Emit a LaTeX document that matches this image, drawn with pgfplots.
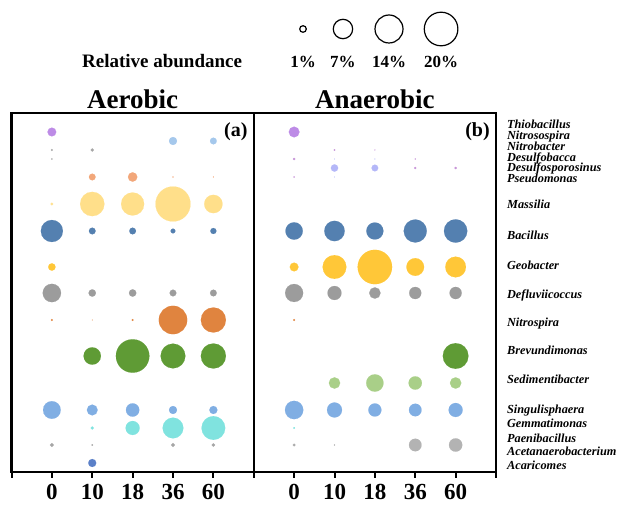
\documentclass[border=0pt]{standalone}
\usepackage{fontspec}
\setmainfont{Liberation Serif}
\usepackage{pgfplots}
\pgfplotsset{compat=1.18}
\usepackage{pgfplotstable}

\definecolor{cpu}{HTML}{BD8BE6}
\definecolor{clb}{HTML}{A5C8EC}
\definecolor{cgr}{HTML}{A6A6A6}
\definecolor{cmv}{HTML}{C896D8}
\definecolor{clv}{HTML}{B4B7F8}
\definecolor{cor}{HTML}{F2A77A}
\definecolor{cye}{HTML}{FFDF8A}
\definecolor{cbb}{HTML}{5480B0}
\definecolor{cgo}{HTML}{FFC738}
\definecolor{cdg}{HTML}{9C9C9C}
\definecolor{cno}{HTML}{E0843F}
\definecolor{cgn}{HTML}{5F9B35}
\definecolor{clg}{HTML}{A9CF88}
\definecolor{csb}{HTML}{80AEE3}
\definecolor{ccy}{HTML}{80E3DF}
\definecolor{cpg}{HTML}{B3B3B3}
\definecolor{cab}{HTML}{5B80C8}

% x: 0-4 aerobic (0,10,18,36,60), 6-10 anaerobic; y: row position; v: relative abundance (%)
\pgfplotstableread{
x y v c
0 132 1.24 pu
3 141 1.05 lb
4 141 0.74 lb
0 150 0.07 gr
1 150 0.15 gr
0 159 0.03 gr
1 177 0.73 or
2 177 1.43 or
3 177 0.02 or
4 177 0.02 or
0 204 0.12 ye
1 204 9.7 ye
2 204 8.7 ye
3 204 20.1 ye
4 204 5.5 ye
0 231 7.96 bb
1 231 0.73 bb
2 231 0.73 bb
3 231 0.36 bb
4 231 0.59 bb
0 267 0.88 go
0 293 5.5 dg
1 293 0.88 dg
2 293 0.88 dg
3 293 0.73 dg
4 293 0.73 dg
0 320 0.07 no
1 320 0.01 no
2 320 0.07 no
3 320 13.2 no
4 320 10.3 no
1 356 4.9 gn
2 356 18.3 gn
3 356 10.0 gn
4 356 10.3 gn
0 410 5.1 sb
1 410 1.9 sb
2 410 2.9 sb
3 410 1.05 sb
4 410 1.05 sb
1 428 0.18 cy
2 428 3.2 cy
3 428 7.0 cy
4 428 9.2 cy
0 445 0.26 gr
1 445 0.05 gr
3 445 0.26 gr
4 445 0.18 gr
1 463 1.05 ab
6 132 1.87 pu
7 150 0.04 mv
8 150 0.02 mv
6 159 0.09 mv
7 159 0.01 lv
8 159 0.01 lv
9 159 0.02 mv
7 168 0.88 lv
8 168 0.73 lv
9 168 0.07 mv
10 168 0.09 mv
6 177 0.03 mv
7 177 0.01 lv
6 231 4.9 bb
7 231 6.8 bb
8 231 4.75 bb
9 231 8.7 bb
10 231 8.9 bb
6 267 1.24 go
7 267 9.2 go
8 267 19.4 go
9 267 5.1 go
10 267 7.0 go
6 293 5.3 dg
7 293 3.2 dg
8 293 2.1 dg
9 293 2.4 dg
10 293 2.4 dg
6 320 0.07 no
10 356 10.8 gn
7 383 2.1 lg
8 383 4.9 lg
9 383 2.9 lg
10 383 2.1 lg
6 410 5.5 sb
7 410 3.7 sb
8 410 2.8 sb
9 410 2.6 sb
10 410 3.2 sb
6 428 0.05 cy
6 445 0.12 gr
7 445 0.03 gr
9 445 2.6 pg
10 445 2.9 pg
}\bubbles

\begin{document}
\begin{tikzpicture}
\useasboundingbox (0,0) rectangle (622pt,505pt);
\begin{axis}[
  at={(11.5pt,33pt)}, anchor=south west,
  scale only axis, width=484.5pt, height=359pt,
  xmin=-1, xmax=11, ymin=113, ymax=472, y dir=reverse,
  clip=false,
  axis line style={line width=2.4pt},
  xtick={-1,0,1,2,3,4,5,6,7,8,9,10,11},
  xticklabels={,0,10,18,36,60,,0,10,18,36,60,},
  xtick pos=left, tick align=outside, major tick length=6pt,
  x tick style={line width=2pt, black},
  ytick=\empty,
  xticklabel style={font=\bfseries\fontsize{23}{23}\selectfont, yshift=-3pt},
]
\addplot[scatter, only marks, mark=*, scatter src=explicit symbolic,
  mark options={line width=0.1pt},
  scatter/classes={
    pu={cpu}, lb={clb}, gr={cgr}, mv={cmv}, lv={clv}, or={cor},
    ye={cye}, bb={cbb}, go={cgo}, dg={cdg}, no={cno}, gn={cgn},
    lg={clg}, sb={csb}, cy={ccy}, pg={cpg}, ab={cab}},
  visualization depends on={3.9*sqrt(\thisrow{v}) \as \rad},
  scatter/@pre marker code/.append style={/tikz/mark size=\rad}]
  table[x=x,y=y,meta=c]{\bubbles};

% size legend (1, 7, 14, 20 %)
\addplot[only marks, mark=o, mark size=3.3pt, mark options={line width=1.2pt, black}] coordinates {(6.22,29)};
\addplot[only marks, mark=o, mark size=9.7pt, mark options={line width=1.2pt, black}] coordinates {(7.21,29)};
\addplot[only marks, mark=o, mark size=14.0pt, mark options={line width=1.2pt, black}] coordinates {(8.35,29)};
\addplot[only marks, mark=o, mark size=16.8pt, mark options={line width=1.2pt, black}] coordinates {(9.64,29)};

\draw[line width=2.4pt] (axis cs:5,113) -- (axis cs:5,472);

\node[font=\bfseries\fontsize{27}{27}\selectfont, anchor=base] at (axis cs:2,109) {Aerobic};
\node[font=\bfseries\fontsize{27}{27}\selectfont, anchor=base] at (axis cs:8,109) {Anaerobic};
\node[font=\bfseries\fontsize{20}{20}\selectfont, anchor=base east, inner sep=0pt] at (axis cs:4.85,137) {(a)};
\node[font=\bfseries\fontsize{20}{20}\selectfont, anchor=base east, inner sep=0pt] at (axis cs:10.85,137) {(b)};

\node[font=\bfseries\fontsize{19}{19}\selectfont, anchor=base] at (axis cs:2.73,68) {Relative abundance};
\node[font=\bfseries\fontsize{17}{17}\selectfont, anchor=base] at (axis cs:6.22,68) {1\%};
\node[font=\bfseries\fontsize{17}{17}\selectfont, anchor=base] at (axis cs:7.21,68) {7\%};
\node[font=\bfseries\fontsize{17}{17}\selectfont, anchor=base] at (axis cs:8.35,68) {14\%};
\node[font=\bfseries\fontsize{17}{17}\selectfont, anchor=base] at (axis cs:9.64,68) {20\%};

\begin{scope}[every node/.style={font=\bfseries\itshape\fontsize{12.3}{12.3}\selectfont, anchor=base west, inner sep=0pt}]
\node at (axis cs:11.27,129) {Thiobacillus};
\node at (axis cs:11.27,139.7) {Nitrosospira};
\node at (axis cs:11.27,150.4) {Nitrobacter};
\node at (axis cs:11.27,161.1) {Desulfobacca};
\node at (axis cs:11.27,171.8) {Desulfosporosinus};
\node at (axis cs:11.27,182.5) {Pseudomonas};
\node at (axis cs:11.27,209) {Massilia};
\node at (axis cs:11.27,240) {Bacillus};
\node at (axis cs:11.27,270) {Geobacter};
\node at (axis cs:11.27,299) {Defluviicoccus};
\node at (axis cs:11.27,327) {Nitrospira};
\node at (axis cs:11.27,355) {Brevundimonas};
\node at (axis cs:11.27,384) {Sedimentibacter};
\node at (axis cs:11.27,414) {Singulisphaera};
\node at (axis cs:11.27,428) {Gemmatimonas};
\node at (axis cs:11.27,442.5) {Paenibacillus};
\node at (axis cs:11.27,456) {Acetanaerobacterium};
\node at (axis cs:11.27,469.5) {Acaricomes};
\end{scope}
\end{axis}
\end{tikzpicture}
\end{document}
